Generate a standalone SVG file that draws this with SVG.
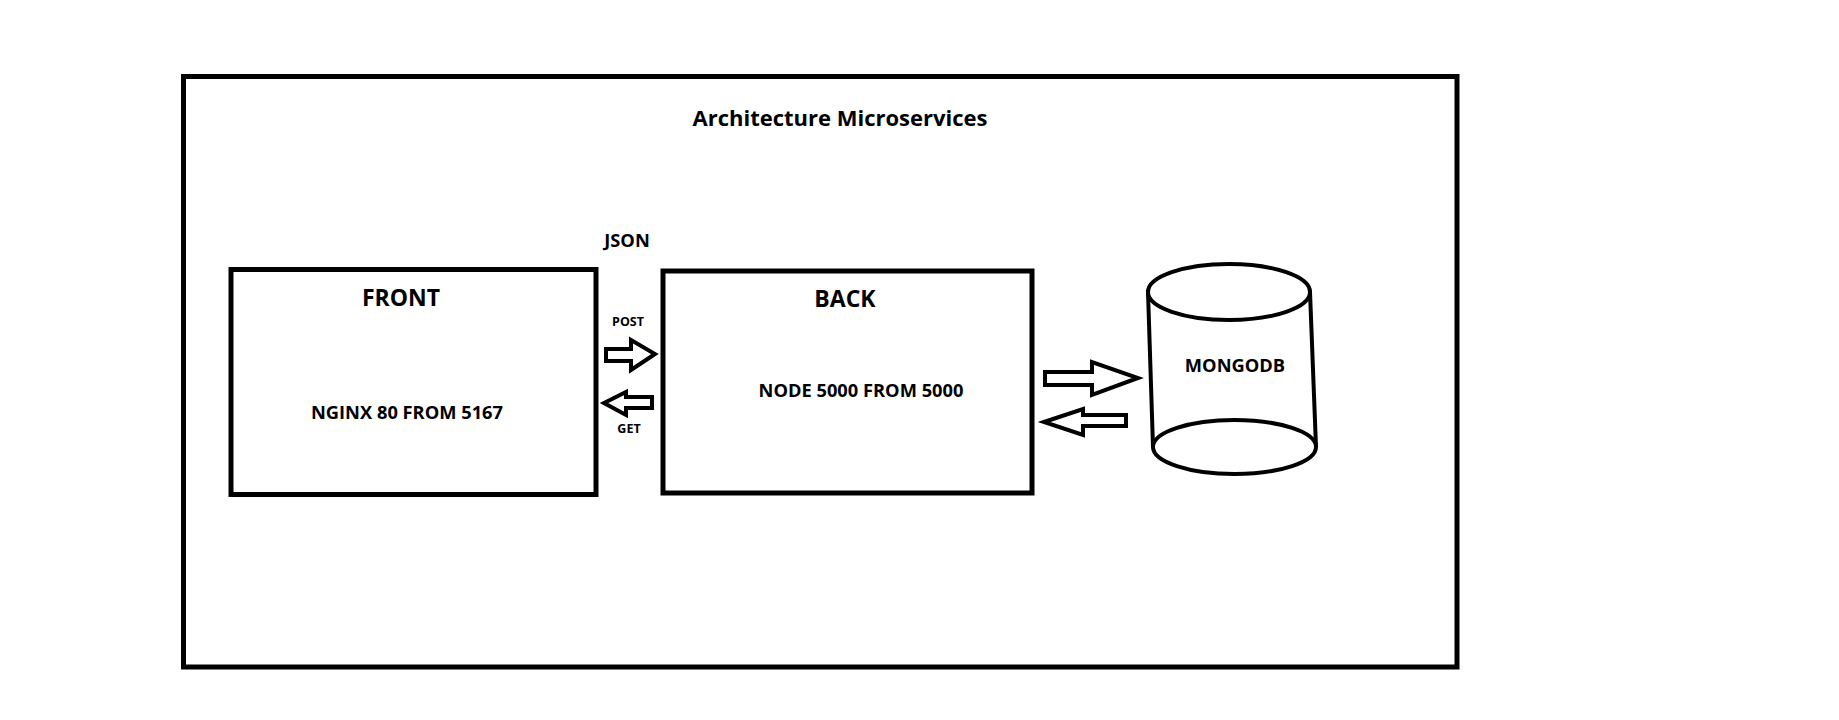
<svg xmlns="http://www.w3.org/2000/svg" width="1839" height="720" viewBox="0 0 1839 720">
<style>
.box{fill:none;stroke:#000;stroke-width:5}
.arr{fill:#fff;stroke:#000;stroke-width:4;stroke-linejoin:miter}
.db{fill:#fff;stroke:#000;stroke-width:4}
text{font-family:"Open Sans","Noto Sans","Liberation Sans",sans-serif;font-weight:bold;fill:#000;text-anchor:middle}
.t1{font-size:22px}
.t2{font-size:23px}
.t3{font-size:18.3px}
.t4{font-size:12.5px}
</style>
<rect width="1839" height="720" fill="#fff"/>
<g id="container">
<rect class="box" x="183.5" y="76.5" width="1273.5" height="590.5"/>
<text class="t1" x="840" y="126">Architecture Microservices</text>
</g>
<g id="front">
<rect class="box" x="231" y="269.5" width="365" height="225" stroke-width="4.5"/>
<text class="t2" x="401" y="306">FRONT</text>
<text class="t3" x="407" y="419">NGINX 80 FROM 5167</text>
</g>
<g id="back">
<rect class="box" x="663" y="271" width="369" height="222" stroke-width="4.5"/>
<text class="t2" x="845" y="307">BACK</text>
<text class="t3" x="861" y="397">NODE 5000 FROM 5000</text>
</g>
<g id="mongodb">
<path class="db" d="M1148,292 L1153,447 A81.5,27 0 0 0 1316,447 L1310,292 Z"/>
<ellipse class="db" cx="1229" cy="292" rx="81" ry="28"/>
<path class="db" d="M1153,447 A81.5,27 0 0 1 1316,447" fill="none"/>
<text class="t3" x="1235" y="372">MONGODB</text>
</g>
<g id="connectors">
<polygon class="arr" points="606,349 631,349 631,340 655,354 631,370 631,361 606,361"/>
<polygon class="arr" points="604,403 626,392 626,397 652,397 652,408 626,408 626,415"/>
<polygon class="arr" points="1045,372 1092,372 1092,362 1138,378 1092,395 1092,385 1045,385"/>
<polygon class="arr" points="1044,422 1083,409 1083,415 1126,415 1126,426 1083,426 1083,435"/>
<text class="t3" x="627" y="247">JSON</text>
<text class="t4" x="628" y="326">POST</text>
<text class="t4" x="629" y="433">GET</text>
</g>
</svg>
